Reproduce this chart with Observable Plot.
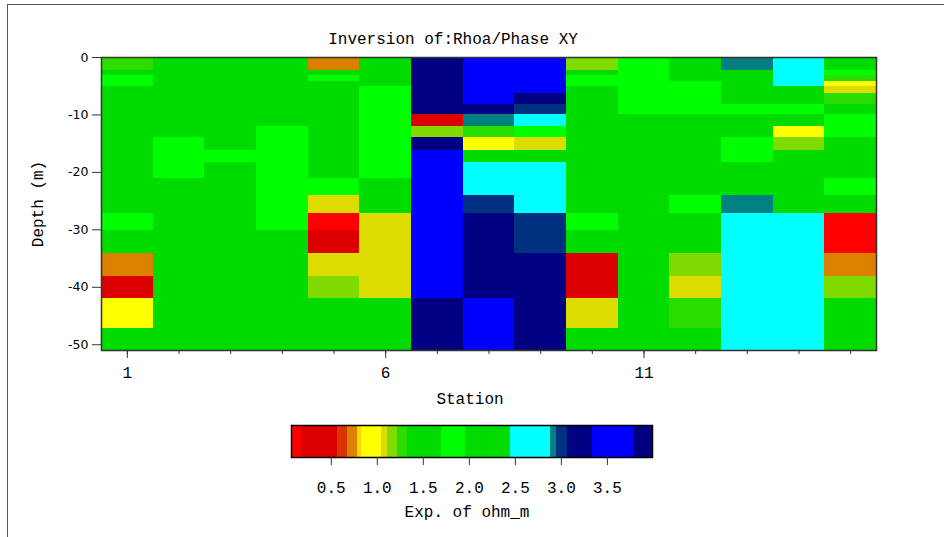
<!DOCTYPE html>
<html>
<head>
<meta charset="utf-8">
<script src="https://cdn.jsdelivr.net/npm/d3@7"></script>
<script src="https://cdn.jsdelivr.net/npm/@observablehq/plot@0.6"></script>
<style>
  html, body { margin: 0; padding: 0; background: #fff; }
  #wrap { position: relative; width: 944px; height: 537px; overflow: hidden; background: #fff; }
  #border { position: absolute; z-index: 5; left: 7px; top: 4px; right: -10px; bottom: -10px; border-top: 1px solid #555; border-left: 1px solid #555; pointer-events: none; }
  #main { position: absolute; left: 0; top: 0; z-index: 1; }
  #bar { position: absolute; left: 0; top: 415px; z-index: 1; }
  svg { overflow: visible; }
</style>
</head>
<body>
<div id="wrap"><div id="main"></div><div id="bar"></div><div id="border"></div></div>
<script>
// ---- data (log10 resistivity, "Exp. of ohm_m") ----
const stations = [1, 2, 3, 4, 5, 6, 7, 8, 9, 10, 11, 12, 13, 14, 15];
const layerBounds = [0, 2.2, 3.2, 4.1, 5.1, 6.2, 8.1, 10, 12, 14, 16.2, 18.2, 21, 24, 27.1, 30.1, 34.1, 38.1, 42, 47.1, 51];
const depthTicks = [0, -10, -20, -30, -40, -50];
const stationLabelTicks = [1, 6, 11];

const st1  = [1.28, 1.5, 1.83, 1.83, 1.5, 1.5, 1.5, 1.5, 1.5, 1.5, 1.5, 1.5, 1.5, 1.5, 1.83, 1.5, 0.73, 0.37, 0.94, 1.5];
const st2  = [1.5, 1.5, 1.5, 1.5, 1.5, 1.5, 1.5, 1.5, 1.5, 1.83, 1.83, 1.83, 1.5, 1.5, 1.5, 1.5, 1.5, 1.5, 1.5, 1.5];
const st3  = [1.5, 1.5, 1.5, 1.5, 1.5, 1.5, 1.5, 1.5, 1.5, 1.5, 1.83, 1.5, 1.5, 1.5, 1.5, 1.5, 1.5, 1.5, 1.5, 1.5];
const st4  = [1.5, 1.5, 1.5, 1.5, 1.5, 1.5, 1.5, 1.5, 1.83, 1.83, 1.83, 1.83, 1.83, 1.83, 1.83, 1.5, 1.5, 1.5, 1.5, 1.5];
const st5  = [0.73, 1.5, 1.83, 1.5, 1.5, 1.5, 1.5, 1.5, 1.5, 1.5, 1.5, 1.5, 1.83, 1.08, 0.12, 0.37, 1.08, 1.17, 1.5, 1.5];
const st6  = [1.5, 1.5, 1.5, 1.5, 1.83, 1.83, 1.83, 1.83, 1.83, 1.83, 1.83, 1.83, 1.5, 1.5, 1.08, 1.08, 1.08, 1.08, 1.5, 1.5];
const st7  = [3.2, 3.2, 3.2, 3.2, 3.2, 3.2, 3.2, 0.37, 1.17, 3.2, 3.56, 3.56, 3.56, 3.56, 3.56, 3.56, 3.56, 3.56, 3.2, 3.2];
const st8  = [3.56, 3.56, 3.56, 3.56, 3.56, 3.56, 3.2, 2.92, 1.28, 0.94, 1.5, 2.67, 2.67, 3.0, 3.2, 3.2, 3.2, 3.2, 3.56, 3.56];
const st9  = [3.56, 3.56, 3.56, 3.56, 3.56, 3.2, 3.0, 2.67, 1.83, 1.08, 1.5, 2.67, 2.67, 2.67, 3.0, 3.0, 3.2, 3.2, 3.2, 3.2];
const st10 = [1.17, 1.5, 1.83, 1.83, 1.5, 1.5, 1.5, 1.5, 1.5, 1.5, 1.5, 1.5, 1.5, 1.5, 1.83, 1.5, 0.37, 0.37, 1.08, 1.5];
const st11 = [1.83, 1.83, 1.83, 1.83, 1.83, 1.83, 1.83, 1.5, 1.5, 1.5, 1.5, 1.5, 1.5, 1.5, 1.5, 1.5, 1.5, 1.5, 1.5, 1.5];
const st12 = [1.5, 1.5, 1.5, 1.83, 1.83, 1.83, 1.83, 1.5, 1.5, 1.5, 1.5, 1.5, 1.5, 1.83, 1.5, 1.5, 1.17, 1.08, 1.28, 1.5];
const st13 = [2.92, 1.5, 1.5, 1.5, 1.5, 1.5, 1.83, 1.5, 1.5, 1.83, 1.83, 1.5, 1.5, 2.92, 2.67, 2.67, 2.67, 2.67, 2.67, 2.67];
const st14 = [2.67, 2.67, 2.67, 2.67, 1.5, 1.5, 1.83, 1.5, 0.94, 1.17, 1.5, 1.5, 1.5, 1.5, 2.67, 2.67, 2.67, 2.67, 2.67, 2.67];
const st15 = [1.5, 1.83, 1.28, 0.94, 1.08, 1.28, 1.5, 1.83, 1.83, 1.5, 1.5, 1.5, 1.83, 1.5, 0.12, 0.12, 0.73, 1.17, 1.5, 1.5];
const logRho = [st1, st2, st3, st4, st5, st6, st7, st8, st9, st10, st11, st12, st13, st14, st15];

// colour bar (discrete classes)
const cbMin = 0.068, cbMax = 3.99;
const cbThresholds = [0.174, 0.572, 0.674, 0.783, 0.83, 1.047, 1.109, 1.224, 1.326, 1.696, 1.96, 2.449, 2.884, 2.949, 3.065, 3.337, 3.78];
const cbColors = ["#ff0000", "#dc0000", "#dc3400", "#dc8000", "#ffd800", "#ffff00", "#dcdc00", "#80dc00", "#2adc00", "#00dc00", "#00ff00", "#00dc00", "#00ffff", "#008080", "#003080", "#000080", "#0000ff", "#000080"];
const cbTicks = [0.5, 1.0, 1.5, 2.0, 2.5, 3.0, 3.5];

// ---- build ----
const cells = stations.flatMap((s, i) => logRho[i].map((v, j) => ({
  station: s, top: layerBounds[j], bottom: layerBounds[j + 1], value: v
})));
const colorScale = {type: "threshold", domain: cbThresholds, range: cbColors};
const mono = "'Liberation Mono', 'DejaVu Sans Mono', monospace";

const main = Plot.plot({
  width: 944, height: 415,
  marginTop: 57, marginLeft: 101, marginRight: 68, marginBottom: 65,
  style: {background: "#fff", color: "#000", fontFamily: mono, fontSize: "16px"},
  x: {domain: [0.5, 15.5]},
  y: {domain: [-51, 0]},
  color: colorScale,
  marks: [
    Plot.rect(cells, {x1: d => d.station - 0.5, x2: d => d.station + 0.5, y1: d => -d.top, y2: d => -d.bottom, fill: "value", shapeRendering: "crispEdges"}),
    Plot.frame({stroke: "#333", strokeWidth: 1.5}),
    Plot.axisY({ticks: depthTicks, tickSize: 9, tickPadding: 4, label: null, tickFormat: d => String(d),
      fontFamily: "'DejaVu Sans', sans-serif", fontSize: 12.5, stroke: "#333"}),
    Plot.axisX({ticks: stations, tickSize: 4, tickFormat: () => "", label: null, stroke: "#333"}),
    Plot.axisX({ticks: stationLabelTicks, tickSize: 8, tickPadding: 8, label: null, tickFormat: d => String(d), stroke: "#333"}),
    Plot.text(["Inversion of:Rhoa/Phase XY"], {frameAnchor: "top", dx: -36, dy: -19, lineAnchor: "middle", textAnchor: "middle", fontFamily: mono, fontSize: 16}),
    Plot.text(["Station"], {frameAnchor: "bottom", dx: -19, dy: 48, lineAnchor: "middle", textAnchor: "middle", fontFamily: mono, fontSize: 16}),
    Plot.text(["Depth (m)"], {frameAnchor: "left", dx: -64, rotate: -90, lineAnchor: "middle", textAnchor: "middle", fontFamily: mono, fontSize: 16})
  ]
});
document.getElementById("main").appendChild(main);

const segStarts = [cbMin, ...cbThresholds];
const segEnds = [...cbThresholds, cbMax];
const segments = segStarts.map((a, i) => ({x1: a, x2: segEnds[i], value: (a + segEnds[i]) / 2}));

const bar = Plot.plot({
  width: 944, height: 122,
  marginTop: 10, marginBottom: 80, marginLeft: 291, marginRight: 292,
  style: {background: "#fff", color: "#000", fontFamily: mono, fontSize: "16px"},
  x: {domain: [cbMin, cbMax]},
  color: colorScale,
  marks: [
    Plot.rect(segments, {x1: "x1", x2: "x2", fill: "value", shapeRendering: "crispEdges"}),
    Plot.frame({stroke: "#000", strokeWidth: 1.5}),
    Plot.axisX({ticks: cbTicks, tickSize: 8, tickPadding: 16, tickFormat: d => d.toFixed(1), label: null, stroke: "#333"}),
    Plot.text(["Exp. of ohm_m"], {frameAnchor: "bottom", dx: -5, dy: 54, lineAnchor: "middle", textAnchor: "middle", fontFamily: mono, fontSize: 16})
  ]
});
document.getElementById("bar").appendChild(bar);
</script>
</body>
</html>
